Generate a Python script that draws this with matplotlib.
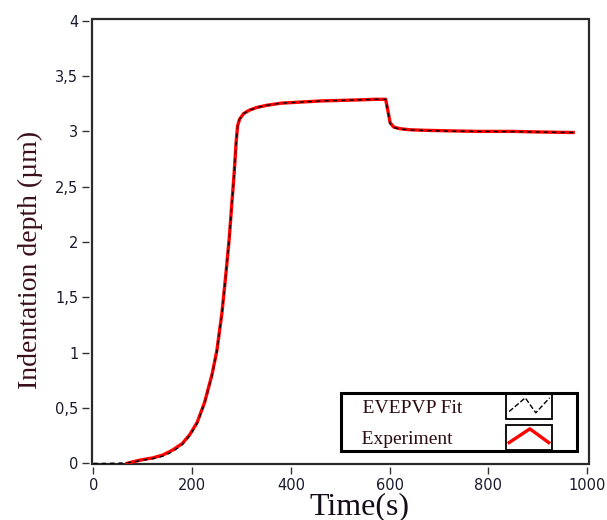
import matplotlib
matplotlib.use("Agg")
import matplotlib.pyplot as plt
from matplotlib.lines import Line2D
from matplotlib.patches import Rectangle
from matplotlib.legend_handler import HandlerBase

# ---------------- data ----------------
t_exp = [68, 80, 100, 120, 140, 160, 180, 195, 210, 225, 240, 250, 260, 268, 275,
         280, 285, 289, 292, 296, 304, 315, 330, 350, 380, 420, 460, 500, 540, 570,
         592, 596, 601, 608, 620, 640, 670, 720, 780, 850, 900, 972]
d_exp = [0.0, 0.015, 0.035, 0.05, 0.075, 0.12, 0.18, 0.26, 0.37, 0.55, 0.80, 1.02, 1.35, 1.70, 2.03,
         2.33, 2.62, 2.90, 3.05, 3.11, 3.16, 3.19, 3.215, 3.235, 3.255, 3.265, 3.275, 3.28, 3.285, 3.29,
         3.29, 3.20, 3.08, 3.04, 3.025, 3.015, 3.01, 3.005, 3.0, 3.0, 2.995, 2.99]

t_fit = [0, 20, 40, 60, 70, 80, 100, 120, 140, 160, 180, 195, 210, 225, 240, 250, 260, 268, 275,
         280, 285, 289, 292, 296, 304, 315, 330, 350, 380, 420, 460, 500, 540, 570,
         592, 596, 601, 608, 620, 640, 670, 720, 780, 850, 900, 972]
d_fit = [0.0, 0.0, 0.002, 0.004, 0.008, 0.012, 0.03, 0.043, 0.065, 0.105, 0.17, 0.25, 0.36, 0.54, 0.79, 1.01, 1.34, 1.69, 2.02,
         2.32, 2.61, 2.89, 3.04, 3.11, 3.16, 3.19, 3.215, 3.235, 3.255, 3.265, 3.275, 3.28, 3.285, 3.29,
         3.29, 3.19, 3.07, 3.035, 3.022, 3.013, 3.008, 3.003, 3.0, 2.998, 2.994, 2.99]

xticks = [0, 200, 400, 600, 800, 1000]
yticks = [0, 0.5, 1, 1.5, 2, 2.5, 3, 3.5, 4]
yticklabels = ['0', '0,5', '1', '1,5', '2', '2,5', '3', '3,5', '4']
labels = ['EVEPVP Fit', 'Experiment']

# ---------------- figure ----------------
W, H = 607, 520
fig = plt.figure(figsize=(W / 100, H / 100), dpi=100)
ax = fig.add_axes([92 / W, 1 - 464 / H, (589 - 92) / W, (464 - 18.5) / H])

ax.plot(t_fit, d_fit, color='black', lw=1.0, ls=(0, (3, 3)), zorder=3)
ax.plot(t_exp, d_exp, color='#ff0000', lw=2.4, zorder=2, solid_joinstyle='round')

ax.set_xlim(-3, 1004)
ax.set_ylim(-0.005, 4.02)
ax.set_xticks(xticks)
ax.set_yticks(yticks)
ax.set_yticklabels(yticklabels)

# frame drawn by the axes patch, ticks detached from it
for s in ax.spines.values():
    s.set_edgecolor('none')
ax.spines['left'].set_position(('outward', 2.2))
ax.spines['bottom'].set_position(('outward', 2.5))
ax.patch.set_edgecolor('#2a2a2a')
ax.patch.set_linewidth(1.6)

tick_col = '#1a1a2e'
ax.tick_params(axis='both', direction='out', length=5.2, width=1.0, color='#333333',
               labelsize=10.5, labelcolor=tick_col, pad=2.5)
for lab in ax.get_xticklabels() + ax.get_yticklabels():
    lab.set_family('DejaVu Sans')

ax.set_xlabel('Time(s)', family='Liberation Serif', fontsize=23, color='#140c18')
ax.xaxis.set_label_coords(0.539, -0.064)
ax.set_ylabel('Indentation depth (\u00b5m)', family='Liberation Serif', fontsize=20, color='#3a0f1a')
ax.yaxis.set_label_coords(-0.099, 0.459)


# ---------------- legend ----------------
class BoxedZigHandler(HandlerBase):
    def __init__(self, xs, ys, frac=0.657):
        super().__init__()
        self.xs, self.ys, self.frac = xs, ys, frac

    def create_artists(self, legend, orig_handle, xdescent, ydescent, width, height, fontsize, trans):
        bw = width * self.frac
        x0, y0 = -xdescent, -ydescent
        rect = Rectangle((x0, y0), bw, height, fill=False, ec='black', lw=1.3, transform=trans)
        line = Line2D([x0 + bw * v for v in self.xs], [y0 + height * v for v in self.ys],
                      color=orig_handle.get_color(), lw=orig_handle.get_linewidth(),
                      ls=orig_handle.get_linestyle(), transform=trans)
        return [rect, line]


h_fit = Line2D([], [], color='black', lw=1.0, ls=(0, (3, 3)))
h_exp = Line2D([], [], color='#ff0000', lw=2.4)

fs = 14
leg = ax.legend([h_fit, h_exp], ['    ' + labels[0], '    ' + labels[1] + '  '],
                handler_map={h_fit: BoxedZigHandler([0.07, 0.42, 0.65, 0.95], [0.3, 0.85, 0.25, 0.85]),
                             h_exp: BoxedZigHandler([0.07, 0.52, 0.93], [0.3, 0.85, 0.3])},
                loc='upper right', bbox_to_anchor=(577 / W, 1 - 393 / H), bbox_transform=fig.transFigure,
                markerfirst=False, fancybox=False, framealpha=1, edgecolor='black',
                prop={'family': 'Liberation Serif', 'size': fs},
                handlelength=3.6, handleheight=1.6, labelspacing=0.31,
                borderpad=0.055, handletextpad=2.23, borderaxespad=0)
leg.get_frame().set_linewidth(2.2)
for txt in leg.get_texts():
    txt.set_color('#2a0c12')

fig.savefig('out.png', dpi=100)
